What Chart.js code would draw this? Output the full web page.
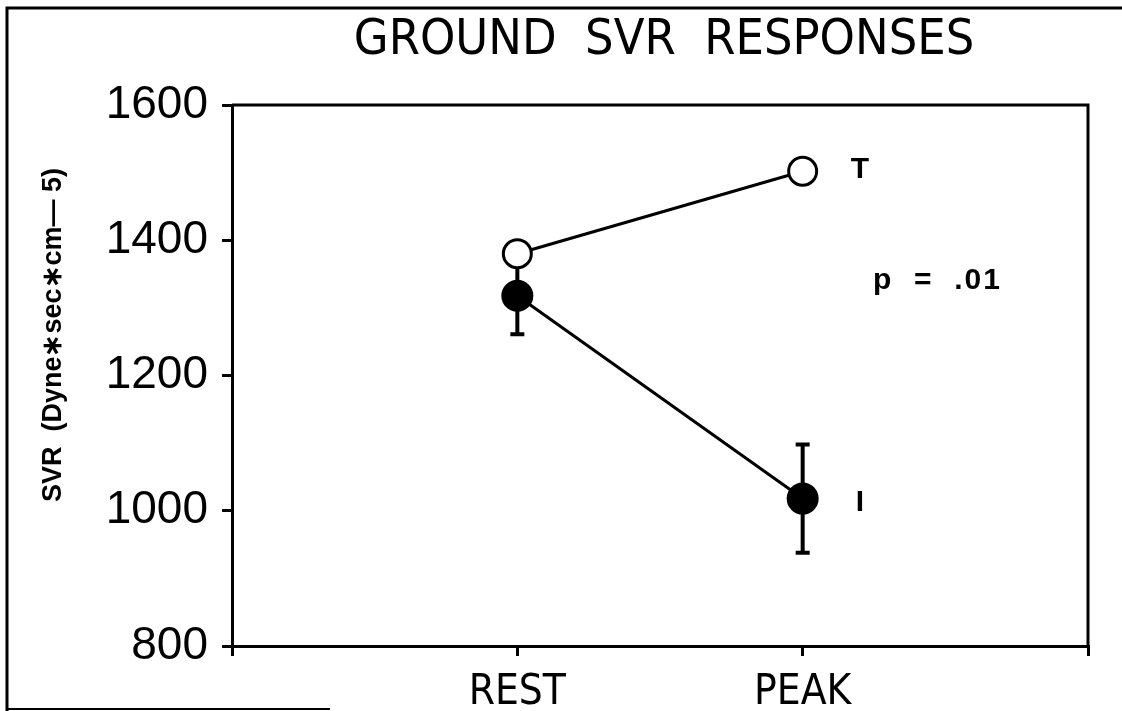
<!DOCTYPE html>
<html>
<head>
<meta charset="utf-8">
<script src="https://cdn.jsdelivr.net/npm/chart.js@4"></script>
<style>
  html, body { margin: 0; padding: 0; background: #fff; }
  #wrap { width: 1122px; height: 711px; }
</style>
</head>
<body>
<div id="wrap"><canvas id="svrChart" width="1122" height="711"></canvas></div>
<script>
// categories (blank slots at both ends)
const labels = ["", "REST", "PEAK", ""];
// T group (open circles)
const trainedMean = [null, 1380, 1502, null];
// I group (filled circles) with +/- error
const inactiveMean = [null, 1318, 1018, null];
const inactiveErr = [null, 57, 80, null];
const yTicks = [800, 1000, 1200, 1400, 1600];

const narrow = "'Liberation Sans Narrow', 'DejaVu Sans Condensed', Arial, sans-serif";
const sans = "'Liberation Sans', Arial, sans-serif";

// frame, box, error bars and annotations
const extras = {
    id: "extras",
    beforeDatasetsDraw(chart) {
        const ctx = chart.ctx;
        const x = chart.scales.x, y = chart.scales.y;
        const a = chart.chartArea;
        ctx.save();
        ctx.strokeStyle = "#000";
        ctx.lineCap = "butt";
        // outer page frame
        ctx.lineWidth = 3;
        ctx.beginPath();
        ctx.moveTo(7, 711); ctx.lineTo(7, 8); ctx.lineTo(1122, 8);
        ctx.stroke();
        ctx.lineWidth = 2;
        ctx.beginPath();
        ctx.moveTo(7, 709); ctx.lineTo(330, 709);
        ctx.stroke();
        // top and right side of the plot box
        ctx.lineWidth = 3;
        ctx.beginPath();
        ctx.moveTo(a.left, a.top); ctx.lineTo(a.right, a.top); ctx.lineTo(a.right, a.bottom);
        ctx.stroke();
        // error bars of the I group
        ctx.lineWidth = 4;
        inactiveMean.forEach((m, i) => {
            if (m == null) return;
            const px = x.getPixelForValue(i);
            const top = y.getPixelForValue(m + inactiveErr[i]);
            const bot = y.getPixelForValue(m - inactiveErr[i]);
            ctx.beginPath();
            ctx.moveTo(px, top); ctx.lineTo(px, bot);
            ctx.moveTo(px - 7, top); ctx.lineTo(px + 7, top);
            ctx.moveTo(px - 7, bot); ctx.lineTo(px + 7, bot);
            ctx.stroke();
        });
        ctx.restore();
    },
    afterDraw(chart) {
        const ctx = chart.ctx;
        const x = chart.scales.x, y = chart.scales.y;
        ctx.save();
        ctx.fillStyle = "#000";
        // title
        ctx.font = "50px " + narrow;
        ctx.textAlign = "center";
        ctx.textBaseline = "alphabetic";
        ctx.fillText("GROUND  SVR  RESPONSES", 664, 54);
        // series labels
        ctx.font = "bold 30px " + sans;
        ctx.textAlign = "left";
        ctx.textBaseline = "middle";
        ctx.fillText("T", x.getPixelForValue(2) + 48, y.getPixelForValue(trainedMean[2]) - 2);
        ctx.fillText("I", x.getPixelForValue(2) + 53, y.getPixelForValue(inactiveMean[2]) + 4);
        ctx.letterSpacing = "2px";
        ctx.fillText("p  =  .01", 873, 281);
        ctx.letterSpacing = "0px";
        // y axis title
        ctx.translate(54, 335);
        ctx.rotate(-Math.PI / 2);
        ctx.textAlign = "center";
        ctx.font = "bold 27px " + sans;
        ctx.fillText("SVR  (Dyne\u2217sec\u2217cm\u2014 5)", 0, 0);
        ctx.restore();
    }
};

new Chart(document.getElementById("svrChart"), {
    type: "line",
    data: {
        labels: labels,
        datasets: [
            {
                label: "T",
                data: trainedMean,
                borderColor: "#000",
                borderWidth: 3,
                backgroundColor: "#fff",
                pointRadius: 14,
                pointBorderWidth: 3,
                pointBackgroundColor: "#fff",
                pointBorderColor: "#000",
                order: 2
            },
            {
                label: "I",
                data: inactiveMean,
                borderColor: "#000",
                borderWidth: 3,
                backgroundColor: "#000",
                pointRadius: 16,
                pointBorderWidth: 0,
                pointBackgroundColor: "#000",
                order: 1
            }
        ]
    },
    options: {
        responsive: false,
        animation: false,
        layout: { padding: { top: 105, right: 34, left: 0, bottom: 0 } },
        plugins: {
            legend: { display: false },
            title: { display: false },
            tooltip: { enabled: false }
        },
        scales: {
            x: {
                type: "category",
                offset: false,
                grid: { drawOnChartArea: false, drawTicks: true, tickLength: 10, color: "#000", lineWidth: 3 },
                border: { display: true, color: "#000", width: 3 },
                ticks: {
                    color: "#000",
                    font: { family: narrow, size: 42 },
                    padding: 12,
                    maxRotation: 0,
                    autoSkip: false
                },
                afterFit(scale) { scale.height = 711 - 646; }
            },
            y: {
                min: 800,
                max: 1600,
                afterBuildTicks(scale) { scale.ticks = yTicks.map(v => ({ value: v })); },
                grid: { drawOnChartArea: false, drawTicks: true, tickLength: 10, color: "#000", lineWidth: 3 },
                border: { display: true, color: "#000", width: 3 },
                ticks: {
                    color: "#000",
                    font: { family: sans, size: 46 },
                    padding: 14,
                    callback: v => String(v)
                },
                afterFit(scale) { scale.width = 232; }
            }
        }
    },
    plugins: [extras]
});
</script>
</body>
</html>
